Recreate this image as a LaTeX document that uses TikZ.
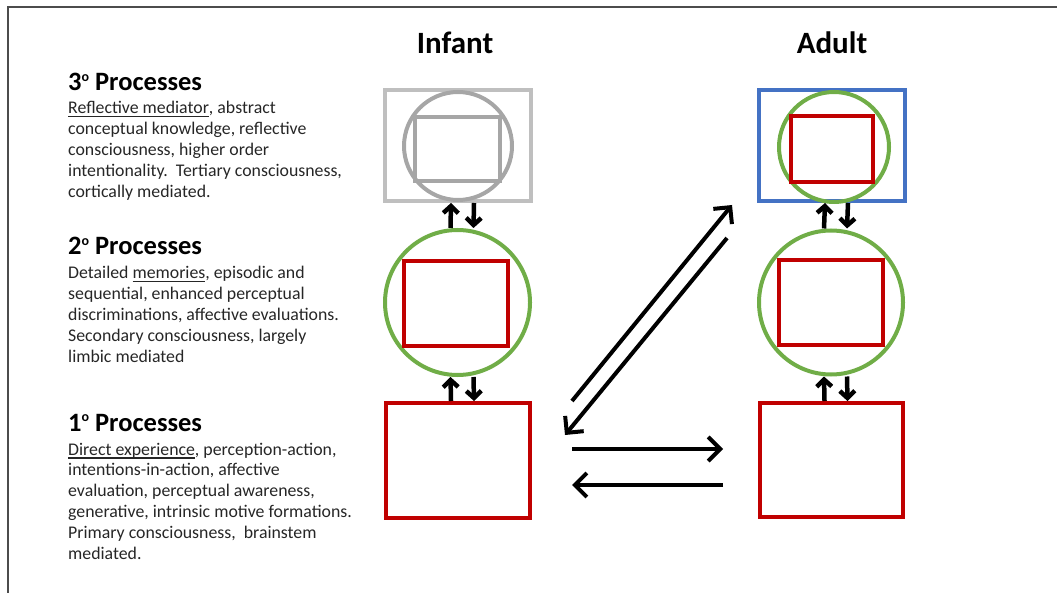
\documentclass[tikz,border=0pt]{standalone}
\usepackage{fontspec}
\setmainfont{Carlito}
\usetikzlibrary{arrows.meta}
\definecolor{boxred}{RGB}{192,0,0}
\definecolor{ringgreen}{RGB}{112,173,71}
\definecolor{boxblue}{RGB}{68,114,196}
\definecolor{shadegray}{RGB}{191,191,191}
\definecolor{darkshade}{RGB}{166,166,166}
\newcommand{\thickul}[1]{\leavevmode\setbox0\hbox{#1}\rlap{\raisebox{-3.5pt}{\rule{\wd0}{1.8pt}}}\box0}
\newcommand{\procbody}[1]{\parbox[t]{320pt}{\fontsize{17.8}{20.8}\selectfont\raggedright #1}}
\newcommand{\ordo}{\raisebox{9.5pt}{\fontsize{14}{14}\selectfont o}}
\begin{document}
\begin{tikzpicture}[x=1pt,y=-1pt,
	rect/.style={draw=#1,line width=4pt,rectangle,inner sep=0pt},
	ring/.style={draw=#1,line width=4pt,circle,inner sep=0pt},
	head/.style={anchor=base west,inner sep=0pt,font=\fontsize{26.5}{30}\selectfont\bfseries},
	col/.style={anchor=base,inner sep=0pt,font=\fontsize{31}{36}\selectfont\bfseries},
	body/.style={anchor=base west,inner sep=0pt,text=black!85},
	link/.style={-{Straight Barb[length=12pt,width=24pt]},line width=4pt},
	updown/.style={-{Straight Barb[length=7pt,width=15pt]},line width=4.5pt}]
	\useasboundingbox (0,0) rectangle (1057,593);
	% Rahmen
	\draw[line width=2pt,black!70] (1057,7) -- (8,7) -- (8,593);
	% Ueberschriften
	\node[col] (infant) at (455,54) {Infant};
	\node[col] (adult) at (832,54) {Adult};
	% Saeugling
	\node[rect=shadegray,minimum width=146pt,minimum height=111pt] (tertI) at (458,145.5) {};
	\node[ring=darkshade,minimum size=108pt] (tertIring) at (458,146) {};
	\node[rect=darkshade,minimum width=85pt,minimum height=64pt] (tertIin) at (457.5,149) {};
	\node[ring=ringgreen,minimum size=145pt] (secI) at (457.5,302.5) {};
	\node[rect=boxred,minimum width=104pt,minimum height=85pt] (secIin) at (456,303.5) {};
	\node[rect=boxred,minimum width=144pt,minimum height=115pt] (primI) at (458,460.5) {};
	% Erwachsener
	\node[rect=boxblue,minimum width=146pt,minimum height=111pt] (tertA) at (832,145.5) {};
	\node[ring=ringgreen,minimum size=110pt] (tertAring) at (834,147) {};
	\node[rect=boxred,minimum width=82pt,minimum height=66pt] (tertAin) at (832,149) {};
	\node[ring=ringgreen,minimum size=144pt] (secA) at (831,302.5) {};
	\node[rect=boxred,minimum width=104pt,minimum height=85pt] (secAin) at (831,303) {};
	\node[rect=boxred,minimum width=143pt,minimum height=114pt] (primA) at (831.5,460) {};
	% kleine Pfeile
	\foreach \lo/\hi in {secI/tertI,primI/secI,secA/tertA,primA/secA} {
		\draw[updown] ([xshift=-7pt]\lo.north) -- ([xshift=-7pt]\hi.south);
		\draw[updown] ([xshift=16pt]\hi.south) -- ([xshift=16pt]\lo.north);
	}
	% lange Pfeile
	\draw[link] ([xshift=40pt]primI.north east) -- ([xshift=-25pt,yshift=-2pt]tertA.south west);
	\draw[link] ([xshift=-30pt,yshift=-35pt]tertA.south west) -- ([xshift=33pt,yshift=-34pt]primI.north east);
	\draw[link] ([xshift=40pt,yshift=11.5pt]primI.east) -- ([xshift=-35pt,yshift=11pt]primA.west);
	\draw[link] ([xshift=-35pt,yshift=-25pt]primA.west) -- ([xshift=40pt,yshift=-24.5pt]primI.east);
	% Beschriftung
	\node[head] (lvl3) at (68,91) {3\ordo{} Processes};
	\node[body] (txt3) at (68,114) {\procbody{\thickul{Reflective mediator}, abstract\\conceptual knowledge, reflective\\consciousness, higher order\\intentionality.\ \ Tertiary consciousness,\\cortically mediated.}};
	\node[head] (lvl2) at (68,255) {2\ordo{} Processes};
	\node[body] (txt2) at (68,279) {\procbody{Detailed \thickul{memories}, episodic and\\sequential, enhanced perceptual\\discriminations, affective evaluations.\\Secondary consciousness, largely\\limbic mediated}};
	\node[head] (lvl1) at (68,431) {1\ordo{} Processes};
	\node[body] (txt1) at (68,455) {\procbody{\thickul{Direct experience}, perception-action,\\intentions-in-action, affective\\evaluation, perceptual awareness,\\generative, intrinsic motive formations.\\Primary consciousness,\ \ brainstem\\mediated.}};
\end{tikzpicture}
\end{document}
